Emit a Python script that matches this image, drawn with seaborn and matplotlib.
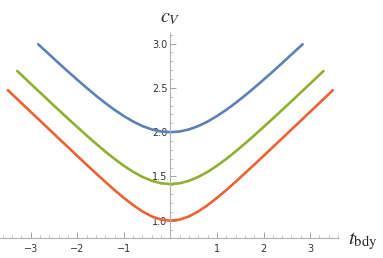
import numpy as np
import pandas as pd
import matplotlib
matplotlib.use("Agg")
import matplotlib.pyplot as plt
import seaborn as sns
from matplotlib.ticker import FixedLocator, MultipleLocator

# --- data ---
blue_t = [-2.84, -2.6, -2.4, -2.2, -2.0, -1.8, -1.6, -1.4, -1.2, -1.0, -0.8, -0.6, -0.4, -0.2, 0.0,
          0.2, 0.4, 0.6, 0.8, 1.0, 1.2, 1.4, 1.6, 1.8, 2.0, 2.2, 2.4, 2.6, 2.84]
blue_c = [2.993, 2.877, 2.780, 2.685, 2.592, 2.501, 2.413, 2.330, 2.252, 2.182, 2.120, 2.069, 2.031,
          2.008, 2.0, 2.008, 2.031, 2.069, 2.120, 2.182, 2.252, 2.330, 2.413, 2.501, 2.592, 2.685,
          2.780, 2.877, 2.993]

green_t = [-3.29, -3.2, -3.0, -2.8, -2.6, -2.4, -2.2, -2.0, -1.8, -1.6, -1.4, -1.2, -1.0, -0.8, -0.6,
           -0.4, -0.2, 0.0, 0.2, 0.4, 0.6, 0.8, 1.0, 1.2, 1.4, 1.6, 1.8, 2.0, 2.2, 2.4, 2.6, 2.8,
           3.0, 3.2, 3.29]
green_c = [2.691, 2.647, 2.547, 2.448, 2.349, 2.251, 2.154, 2.058, 1.963, 1.871, 1.782, 1.698, 1.621,
           1.552, 1.495, 1.451, 1.423, 1.414, 1.423, 1.451, 1.495, 1.552, 1.621, 1.698, 1.782, 1.871,
           1.963, 2.058, 2.154, 2.251, 2.349, 2.448, 2.547, 2.647, 2.691]

orange_t = [-3.49, -3.4, -3.2, -3.0, -2.8, -2.6, -2.4, -2.2, -2.0, -1.8, -1.6, -1.4, -1.2, -1.0, -0.8,
            -0.6, -0.4, -0.2, 0.0, 0.2, 0.4, 0.6, 0.8, 1.0, 1.2, 1.4, 1.6, 1.8, 2.0, 2.2, 2.4, 2.6,
            2.8, 3.0, 3.2, 3.4, 3.49]
orange_c = [2.474, 2.429, 2.329, 2.229, 2.130, 2.030, 1.930, 1.831, 1.732, 1.633, 1.536, 1.440, 1.346,
            1.258, 1.176, 1.105, 1.049, 1.013, 1.0, 1.013, 1.049, 1.105, 1.176, 1.258, 1.346, 1.440,
            1.536, 1.633, 1.732, 1.831, 1.930, 2.030, 2.130, 2.229, 2.329, 2.429, 2.474]

x_ticks = [-3, -2, -1, 1, 2, 3]
x_tick_labels = ["\u22123", "\u22122", "\u22121", "1", "2", "3"]
y_ticks = [1.0, 1.5, 2.0, 2.5, 3.0]
y_tick_labels = ["1.0", "1.5", "2.0", "2.5", "3.0"]

sns.set_style("white")
plt.rcParams['font.family'] = ['DejaVu Sans']
plt.rcParams['mathtext.fontset'] = 'stix'

fig = plt.figure(figsize=(3.83, 2.58), dpi=100)
ax = fig.add_axes([0.0, 1 - 238 / 258, 338 / 383, (238 - 33) / 258])

series = [("blue", blue_t, blue_c, "#5E81B5"),
          ("green", green_t, green_c, "#8FB032"),
          ("orange", orange_t, orange_c, "#EB6235")]
for name, t, c, col in series:
    df = pd.DataFrame({"t": t, "c": c})
    sns.lineplot(data=df, x="t", y="c", sort=False, color=col, lw=1.9, ax=ax,
                 estimator=None)
for ln in ax.lines:
    ln.set_solid_joinstyle("round")
    ln.set_solid_capstyle("round")

ax.set_xlim(-3.66, 3.6)
ax.set_ylim(0.805, 3.12)

for s in ["top", "right"]:
    ax.spines[s].set_visible(False)
ax.spines["left"].set_position(("data", 0))
for s in ["left", "bottom"]:
    ax.spines[s].set_color("#b0b0b0")
    ax.spines[s].set_linewidth(0.8)

ax.xaxis.set_major_locator(FixedLocator(x_ticks))
ax.set_xticklabels(x_tick_labels)
ax.xaxis.set_minor_locator(MultipleLocator(0.2))
ax.yaxis.set_major_locator(FixedLocator(y_ticks))
ax.set_yticklabels(y_tick_labels)
ax.yaxis.set_minor_locator(MultipleLocator(0.1))

ax.tick_params(axis="both", which="both", bottom=True, left=True, top=False, right=False)
ax.tick_params(axis="both", which="major", direction="in", length=4, width=0.7,
               color="#a0a0a0", labelsize=7, labelcolor="#333333")
ax.tick_params(axis="both", which="minor", direction="in", length=2.3, width=0.6,
               color="#b8b8b8")
ax.tick_params(axis="x", which="major", pad=4)
ax.tick_params(axis="y", which="major", pad=2)

ax.set_xlabel("")
ax.set_ylabel("")

fig.text(170 / 383, 1 - 17 / 258, r"$c_V$", fontsize=14.5, ha="center", va="center")
fig.text(348 / 383, 1 - 241 / 258, r"$t_{\mathrm{bdy}}$", fontsize=15, ha="left", va="center")

fig.savefig("out.png", dpi=100)
